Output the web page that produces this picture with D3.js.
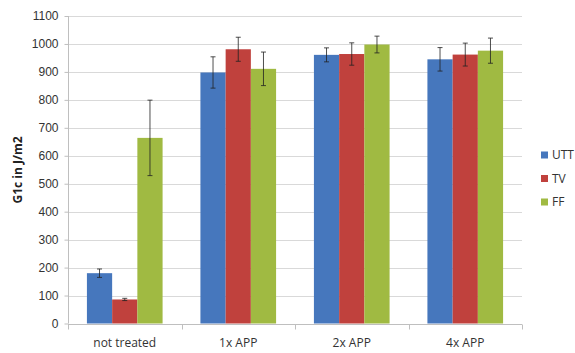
<!DOCTYPE html>
<html><head><meta charset="utf-8">
<script src="https://cdn.jsdelivr.net/npm/d3@7"></script>
<style>body{margin:0;background:#fff;}svg{display:block;font-family:"Open Sans","Liberation Sans",sans-serif;}</style>
</head><body><svg id="c" width="575" height="353"></svg>
<script>
const categories = ["not treated", "1x APP", "2x APP", "4x APP"];
const seriesNames = ["UTT", "TV", "FF"];
const seriesColors = ["#4677bd", "#c0413d", "#a0ba42"];
const utt = [180, 898, 961, 945];
const tv = [86, 981, 964, 962];
const ff = [664, 911, 998, 976];
const uttErr = [15, 56, 25, 42];
const tvErr = [4, 43, 40, 41];
const ffErr = [135, 60, 30, 45];
const yTicks = [0,100,200,300,400,500,600,700,800,900,1000,1100];

const values = [utt, tv, ff];
const errs = [uttErr, tvErr, ffErr];

const svg = d3.select("#c");
const m = {l:68, r:522, t:16, b:323.5};
const x = d3.scaleBand().domain(categories).range([m.l, m.r]).paddingInner(0).paddingOuter(0);
const x1 = d3.scaleBand().domain(seriesNames).range([0, x.bandwidth()]).paddingOuter(0.75).paddingInner(0);
const y = d3.scaleLinear().domain([0,1100]).range([m.b, m.t]);

// gridlines
svg.append("g").selectAll("line").data(yTicks.filter(d=>d>0)).join("line")
  .attr("x1", m.l).attr("x2", m.r).attr("y1", d=>Math.round(y(d))+0.5).attr("y2", d=>Math.round(y(d))+0.5)
  .attr("stroke", "#d9d9d9").attr("stroke-width", 1);

// y axis
const ya = svg.append("g").attr("transform", `translate(${m.l+0.5},0)`)
  .call(d3.axisLeft(y).tickValues(yTicks).tickSize(4).tickPadding(6).tickFormat(d3.format("d")));
ya.select(".domain").attr("stroke", "#bfbfbf").attr("d", `M0,${m.t}V${m.b}`);
ya.selectAll(".tick line").attr("stroke", "#bfbfbf");
ya.selectAll(".tick text").attr("fill", "#333").style("font-size", "12px");

// bars
const groups = svg.append("g").selectAll("g").data(categories).join("g")
  .attr("transform", d=>`translate(${x(d)},0)`);
seriesNames.forEach((s, si) => {
  groups.append("rect")
    .attr("x", x1(s)).attr("width", x1.bandwidth())
    .attr("y", (d,i)=>y(values[si][i])).attr("height", (d,i)=>y(0)-y(values[si][i]))
    .attr("fill", seriesColors[si]);
});
// error bars
seriesNames.forEach((s, si) => {
  const g = groups.append("g").attr("stroke", "#222").attr("stroke-width", 1).attr("stroke-opacity", 0.8);
  const cx = x1(s) + x1.bandwidth()/2;
  g.append("line").attr("x1", cx).attr("x2", cx)
    .attr("y1", (d,i)=>y(values[si][i]+errs[si][i])).attr("y2", (d,i)=>y(values[si][i]-errs[si][i]));
  g.append("line").attr("x1", cx-2.5).attr("x2", cx+2.5)
    .attr("y1", (d,i)=>y(values[si][i]+errs[si][i])).attr("y2", (d,i)=>y(values[si][i]+errs[si][i]));
  g.append("line").attr("x1", cx-2.5).attr("x2", cx+2.5)
    .attr("y1", (d,i)=>y(values[si][i]-errs[si][i])).attr("y2", (d,i)=>y(values[si][i]-errs[si][i]));
});

// x axis
const xa = svg.append("g").attr("transform", `translate(0,${Math.round(m.b)+0.5})`);
xa.append("line").attr("x1", m.l).attr("x2", m.r).attr("stroke", "#bfbfbf");
const bounds = categories.map(c=>x(c)).concat([m.r]);
xa.selectAll("line.t").data(bounds).join("line").attr("class","t")
  .attr("x1", d=>Math.round(d)+0.5).attr("x2", d=>Math.round(d)+0.5).attr("y1", 0).attr("y2", 5).attr("stroke", "#bfbfbf");
xa.selectAll("text").data(categories).join("text")
  .attr("x", d=>x(d)+x.bandwidth()/2).attr("y", 22).attr("text-anchor", "middle")
  .attr("fill", "#333").style("font-size", "12px").text(d=>d);

// y title
svg.append("text").attr("transform", "translate(22,170) rotate(-90)")
  .attr("text-anchor", "middle").style("font-size", "12px").style("font-weight", "bold").attr("fill", "#222")
  .text("G1c in J/m2");

// legend
const lg = svg.append("g").selectAll("g").data(seriesNames).join("g")
  .attr("transform", (d,i)=>`translate(541,${155 + i*23.5})`);
lg.append("rect").attr("x", 0).attr("y", -3.5).attr("width", 7).attr("height", 7).attr("fill", (d,i)=>seriesColors[i]);
lg.append("text").attr("x", 11).attr("y", 0).attr("dy", "0.35em").style("font-size", "12px").attr("fill", "#333").text(d=>d);
</script></body></html>
